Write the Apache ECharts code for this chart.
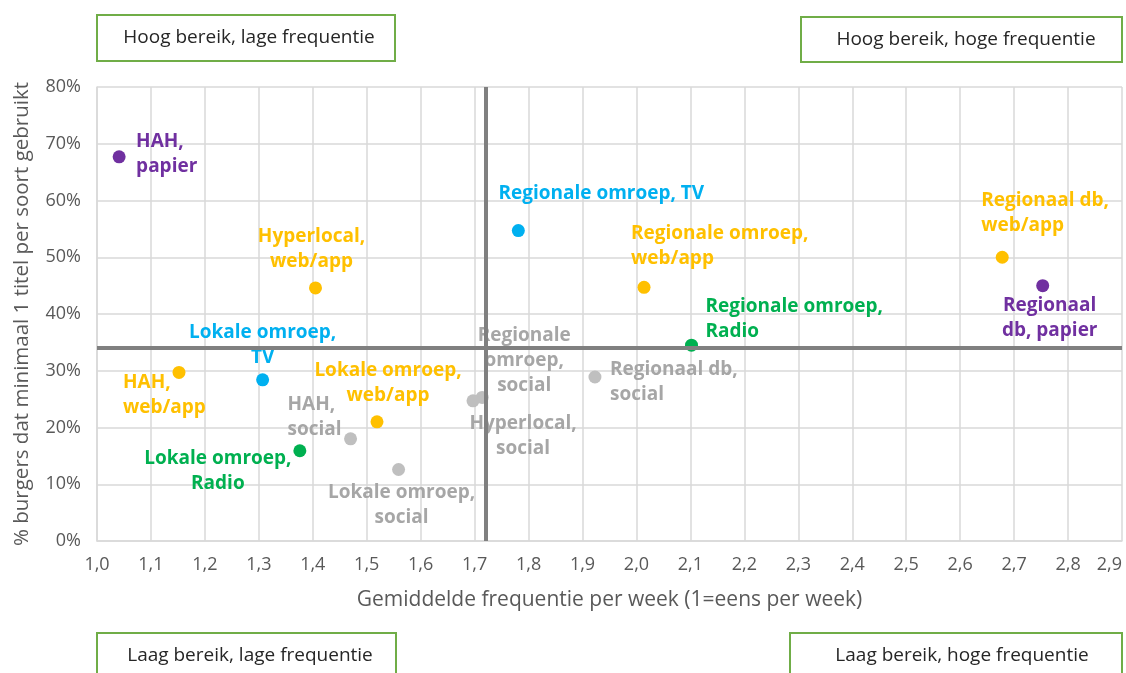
<!DOCTYPE html>
<html>
<head>
<meta charset="utf-8">
<script src="https://cdn.jsdelivr.net/npm/echarts@6/dist/echarts.min.js"></script>
<style>
html, body { margin: 0; padding: 0; background: #fff; }
#main { width: 1126px; height: 673px; }
</style>
</head>
<body>
<div id="main"></div>
<script>
// data
var names = [
    'HAH,\npapier', 'Regionale omroep, TV', 'Regionale omroep,\nweb/app', 'Regionaal db,\nweb/app',
    'Regionaal\ndb, papier', 'Hyperlocal,\nweb/app', 'Regionale omroep,\nRadio', 'Lokale omroep,\nTV',
    'HAH,\nweb/app', 'Lokale omroep,\nweb/app', 'HAH,\nsocial', 'Lokale omroep,\nRadio',
    'Lokale omroep,\nsocial', 'Regionale\nomroep,\nsocial', 'Hyperlocal,\nsocial', 'Regionaal db,\nsocial'
];
var freq  = [1.041, 1.781, 2.014, 2.678, 2.753, 1.405, 2.102, 1.307, 1.152, 1.519, 1.470, 1.376, 1.559, 1.714, 1.697, 1.923];
var reach = [67.7, 54.7, 44.7, 50.0, 45.0, 44.6, 34.5, 28.4, 29.7, 21.0, 18.0, 15.9, 12.6, 25.3, 24.7, 28.9];
var kinds = ['papier', 'tv', 'web', 'web', 'papier', 'web', 'radio', 'tv', 'web', 'web', 'social', 'radio', 'social', 'social', 'social', 'social'];

var avgFreq = 1.715;
var avgReach = 34.0;

var quadrants = ['Hoog bereik, lage frequentie', 'Hoog bereik, hoge frequentie',
                 'Laag bereik, lage frequentie', 'Laag bereik, hoge frequentie'];

// styles
var pointColor = { papier: '#7030A0', tv: '#00B0F0', web: '#FFC000', radio: '#00B050', social: '#BFBFBF' };
var textColor  = { papier: '#7030A0', tv: '#00B0F0', web: '#FFC000', radio: '#00B050', social: '#A6A6A6' };

// label placement: [align, dx, dy] relative to the point
var labelPos = [
    ['left', 17, -3], ['center', 83, -37], ['left', -13, -41], ['left', -21, -44],
    ['center', 7, 32], ['center', -4, -39], ['left', 14, -26], ['center', 0, -35],
    ['left', -56, 23], ['center', 11, -39], ['left', -63, -22], ['center', -82, 20],
    ['center', 3, 36], ['center', 42, -37], ['center', 50, 35], ['left', 15, 5]
];

var myChart = echarts.init(document.getElementById('main'));

var points = names.map(function (n, i) {
    return {
        name: n,
        value: [freq[i], reach[i]],
        itemStyle: { color: pointColor[kinds[i]], opacity: 1 },
        label: {
            show: true,
            position: 'inside',
            formatter: n,
            align: labelPos[i][0],
            verticalAlign: 'middle',
            offset: [labelPos[i][1], labelPos[i][2]],
            color: textColor[kinds[i]]
        }
    };
});

var font = '"Open Sans", "Noto Sans", sans-serif';

function box(x, y, w, h, tx, ty, txt) {
    return [
        { type: 'rect', shape: { x: x, y: y, width: w, height: h },
          style: { fill: '#fff', stroke: '#70AD47', lineWidth: 2 } },
        { type: 'text', x: tx, y: ty,
          style: { text: txt, fill: '#262626', font: '19px ' + font, align: 'center', verticalAlign: 'middle' } }
    ];
}

option = {
    animation: false,
    textStyle: { fontFamily: font },
    grid: { left: 97, right: 4, top: 87, bottom: 132 },
    xAxis: {
        type: 'value',
        min: 1.0,
        max: 2.9,
        interval: 0.1,
        name: 'Gemiddelde frequentie per week (1=eens per week)',
        nameLocation: 'middle',
        nameGap: 49,
        nameTextStyle: { color: '#595959', fontSize: 21 },
        axisLine: { show: true, lineStyle: { color: '#D9D9D9', width: 1.5 } },
        axisTick: { show: false },
        axisLabel: {
            color: '#595959', fontSize: 18, margin: 15, alignMaxLabel: 'right',
            formatter: function (v) { return v.toFixed(1).replace('.', ','); }
        },
        splitLine: { show: true, lineStyle: { color: '#D9D9D9', width: 1.5 } }
    },
    yAxis: {
        type: 'value',
        min: 0,
        max: 80,
        interval: 10,
        name: '% burgers dat minimaal 1 titel per soort gebruikt',
        nameLocation: 'middle',
        nameGap: 64,
        nameTextStyle: { color: '#595959', fontSize: 20.5 },
        axisLine: { show: true, lineStyle: { color: '#D9D9D9', width: 1.5 } },
        axisTick: { show: false },
        axisLabel: { color: '#595959', fontSize: 18, margin: 16, formatter: '{value}%' },
        splitLine: { show: true, lineStyle: { color: '#D9D9D9', width: 1.5 } }
    },
    series: [
        {
            type: 'line',
            data: [],
            z: 1,
            markLine: {
                silent: true,
                symbol: 'none',
                label: { show: false },
                lineStyle: { color: '#808080', width: 4, type: 'solid', opacity: 1 },
                data: [{ xAxis: avgFreq }, { yAxis: avgReach }]
            }
        },
        {
            type: 'scatter',
            z: 3,
            symbolSize: 13,
            label: { fontWeight: 'bold', fontSize: 19, lineHeight: 25 },
            data: points
        }
    ],
    graphic: [].concat(
        box(97, 15, 298, 46, 249, 38, quadrants[0]),
        box(801, 17, 321, 45, 966, 40, quadrants[1]),
        box(97, 633, 299, 52, 250, 656, quadrants[2]),
        box(790, 633, 332, 52, 962, 656, quadrants[3])
    )
};

myChart.setOption(option);
</script>
</body>
</html>
